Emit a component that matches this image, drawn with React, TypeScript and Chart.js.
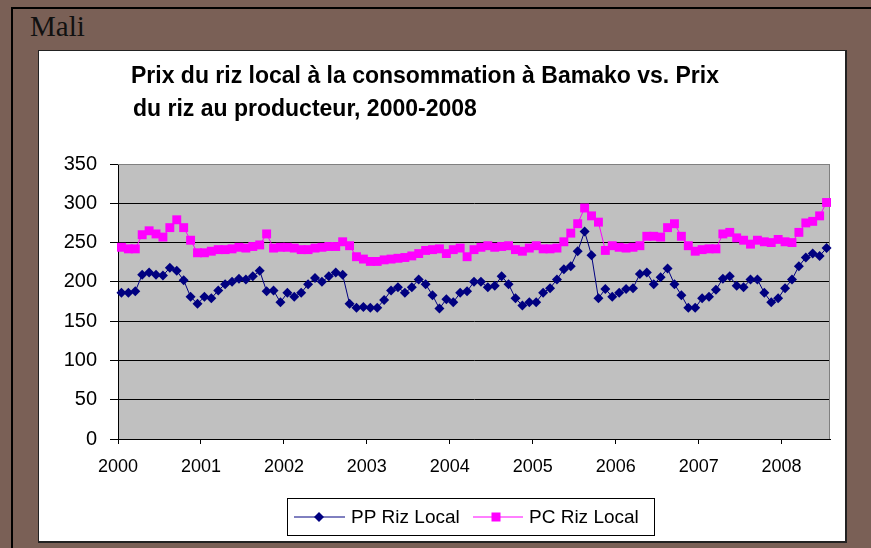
import React, { useEffect, useRef } from "react";
import { Chart, registerables } from "chart.js";

Chart.register(...registerables);

const COUNTRY = "Mali";
const TITLE_LINES = [
  "Prix du riz local à la consommation à Bamako vs. Prix",
  "du riz au producteur, 2000-2008",
];
const YEARS = ["2000", "2001", "2002", "2003", "2004", "2005", "2006", "2007", "2008"];
const Y_TICKS = [0, 50, 100, 150, 200, 250, 300, 350];
const SERIES_NAMES = ["PP Riz Local", "PC Riz Local"];

// Monthly values, Jan 2000 - Jul 2008
const PP_RIZ_LOCAL = [
  186, 186, 188, 209, 212, 209, 208, 218, 214, 202, 181, 172,
  181, 179, 189, 197, 200, 204, 203, 207, 214, 188, 189, 174,
  186, 181, 186, 197, 205, 200, 207, 212, 209, 172, 167, 168,
  167, 167, 177, 189, 193, 186, 193, 203, 197, 183, 166, 178,
  174, 186, 188, 200, 200, 193, 195, 207, 197, 179, 170, 174,
  174, 186, 192, 203, 216, 220, 239, 264, 234, 179, 191, 181,
  186, 191, 192, 210, 212, 197, 206, 217, 197, 183, 167, 167,
  179, 181, 190, 204, 207, 195, 193, 203, 203, 186, 174, 179,
  192, 203, 220, 231, 236, 233, 243,
];
const PC_RIZ_LOCAL = [
  244, 242, 242, 260, 265, 261, 257, 269, 279, 269, 253, 237,
  237, 239, 241, 241, 242, 244, 243, 245, 247, 261, 243, 244,
  244, 243, 241, 241, 243, 244, 245, 245, 251, 246, 232, 229,
  226, 226, 228, 229, 230, 231, 233, 236, 240, 241, 242, 236,
  241, 243, 232, 241, 244, 246, 244, 245, 246, 241, 239, 243,
  246, 242, 242, 243, 251, 262, 274, 294, 284, 276, 240, 246,
  244, 243, 244, 246, 258, 258, 257, 269, 274, 258, 246, 239,
  241, 242, 242, 261, 263, 256, 253, 248, 253, 251, 250, 254,
  251, 250, 263, 275, 277, 284, 301,
];

const BROWN = "#7a6056";
const NAVY = "#000080";
const MAGENTA = "#ff00ff";
const PLOT_BG = "#c0c0c0";
const FONT = '"Liberation Sans", Arial, Helvetica, sans-serif';

const CANVAS_W = 806;
const CANVAS_H = 490;

export default function App() {
  const canvasRef = useRef<HTMLCanvasElement | null>(null);

  useEffect(() => {
    const canvas = canvasRef.current;
    if (!canvas) return;

    const toPoints = (arr: number[]) => arr.map((v, i) => ({ x: i + 0.5, y: v }));

    const plotBg = {
      id: "plotBg",
      beforeDraw(chart: any) {
        const { ctx, chartArea } = chart;
        ctx.save();
        ctx.fillStyle = PLOT_BG;
        ctx.fillRect(chartArea.left, chartArea.top, chartArea.right - chartArea.left, chartArea.bottom - chartArea.top);
        ctx.restore();
      },
      beforeDatasetsDraw(chart: any) {
        const { ctx, chartArea } = chart;
        ctx.save();
        ctx.strokeStyle = "#808080";
        ctx.lineWidth = 1;
        ctx.beginPath();
        ctx.moveTo(chartArea.left, chartArea.top + 0.5);
        ctx.lineTo(chartArea.right - 0.5, chartArea.top + 0.5);
        ctx.lineTo(chartArea.right - 0.5, chartArea.bottom);
        ctx.stroke();
        ctx.restore();
      },
    };

    const titleAndLegend = {
      id: "titleAndLegend",
      afterDraw(chart: any) {
        const ctx = chart.ctx;
        ctx.save();
        // Title
        ctx.fillStyle = "#000";
        ctx.font = `bold 23px ${FONT}`;
        ctx.textAlign = "left";
        ctx.textBaseline = "alphabetic";
        ctx.fillText(TITLE_LINES[0], 92, 32);
        ctx.fillText(TITLE_LINES[1], 94, 65);

        // Legend box
        const bx = 248, by = 447, bw = 367, bh = 37;
        ctx.fillStyle = "#fff";
        ctx.fillRect(bx, by, bw, bh);
        ctx.strokeStyle = "#000";
        ctx.lineWidth = 1;
        ctx.strokeRect(bx + 0.5, by + 0.5, bw, bh);
        const cy = by + bh / 2 + 0.5;

        // item 1
        ctx.strokeStyle = NAVY;
        ctx.beginPath();
        ctx.moveTo(255, cy);
        ctx.lineTo(306, cy);
        ctx.stroke();
        ctx.fillStyle = NAVY;
        ctx.beginPath();
        ctx.moveTo(280 - 5, cy);
        ctx.lineTo(280, cy - 5);
        ctx.lineTo(280 + 5, cy);
        ctx.lineTo(280, cy + 5);
        ctx.closePath();
        ctx.fill();

        // item 2
        ctx.strokeStyle = MAGENTA;
        ctx.beginPath();
        ctx.moveTo(434, cy);
        ctx.lineTo(484, cy);
        ctx.stroke();
        ctx.fillStyle = MAGENTA;
        ctx.fillRect(457 - 4.5, cy - 4.5, 9, 9);

        ctx.fillStyle = "#000";
        ctx.font = `19px ${FONT}`;
        ctx.textBaseline = "middle";
        ctx.fillText(SERIES_NAMES[0], 312, cy + 1);
        ctx.fillText(SERIES_NAMES[1], 490, cy + 1);
        ctx.restore();
      },
    };

    const chart = new Chart(canvas, {
      type: "line",
      data: {
        datasets: [
          {
            label: SERIES_NAMES[0],
            data: toPoints(PP_RIZ_LOCAL),
            borderColor: NAVY,
            backgroundColor: NAVY,
            borderWidth: 1,
            pointStyle: "rectRot",
            pointRadius: 5,
            pointBorderWidth: 0,
            pointBackgroundColor: NAVY,
            tension: 0,
            clip: false as any,
          },
          {
            label: SERIES_NAMES[1],
            data: toPoints(PC_RIZ_LOCAL),
            borderColor: MAGENTA,
            backgroundColor: MAGENTA,
            borderWidth: 1,
            pointStyle: "rect",
            pointRadius: 6.3,
            pointBorderWidth: 0,
            pointBackgroundColor: MAGENTA,
            tension: 0,
            clip: false as any,
          },
        ],
      },
      options: {
        animation: false,
        responsive: false,
        devicePixelRatio: 1,
        layout: { padding: { top: 113, right: 15, left: 0, bottom: 62 } },
        plugins: {
          legend: { display: false },
          title: { display: false },
          tooltip: { enabled: false },
        },
        scales: {
          x: {
            type: "linear",
            min: 0,
            max: PP_RIZ_LOCAL.length,
            afterBuildTicks(scale: any) {
              scale.ticks = YEARS.map((_, k) => ({ value: k * 12 }));
            },
            afterFit(scale: any) {
              scale.height = 40;
            },
            ticks: {
              autoSkip: false,
              maxRotation: 0,
              padding: 12,
              color: "#000",
              font: { family: FONT, size: 18 },
              callback: (v: any) => YEARS[Math.round(Number(v) / 12)] ?? "",
            },
            grid: {
              drawOnChartArea: false,
              drawTicks: true,
              tickLength: 5,
              color: "#000",
            },
            border: { display: true, color: "#000", width: 1 },
          },
          y: {
            min: Y_TICKS[0],
            max: Y_TICKS[Y_TICKS.length - 1],
            afterBuildTicks(scale: any) {
              scale.ticks = Y_TICKS.map((v) => ({ value: v }));
            },
            afterFit(scale: any) {
              scale.width = 79;
            },
            ticks: {
              padding: 13,
              color: "#000",
              font: { family: FONT, size: 20 },
            },
            grid: {
              color: (c: any) => (c.tick && c.tick.value === 350 ? "#808080" : "#000"),
              tickColor: "#000",
              tickLength: 8,
              lineWidth: 1,
            },
            border: { display: true, color: "#000", width: 1 },
          },
        },
      },
      plugins: [plotBg, titleAndLegend],
    });

    return () => chart.destroy();
  }, []);

  return (
    <div
      style={{
        position: "fixed",
        left: 0,
        top: 0,
        width: 871,
        height: 548,
        background: BROWN,
        overflow: "hidden",
      }}
    >
      <div
        style={{
          position: "absolute",
          left: 11,
          top: 7,
          width: 900,
          height: 600,
          borderTop: "2px solid #000",
          borderLeft: "2px solid #000",
        }}
      />
      <div
        style={{
          position: "absolute",
          left: 30,
          top: 12,
          fontFamily: '"Liberation Serif", "Times New Roman", serif',
          fontSize: 29,
          lineHeight: "28px",
          color: "#111",
        }}
      >
        {COUNTRY}
      </div>
      <div
        style={{
          position: "absolute",
          left: 38,
          top: 50,
          width: CANVAS_W,
          height: CANVAS_H,
          background: "#fff",
          borderTop: "1px solid #222",
          borderLeft: "1px solid #222",
          borderRight: "2px solid #222",
          borderBottom: "2px solid #222",
        }}
      >
        <canvas
          ref={canvasRef}
          width={CANVAS_W}
          height={CANVAS_H}
          style={{ display: "block", width: CANVAS_W, height: CANVAS_H }}
        />
      </div>
    </div>
  );
}
